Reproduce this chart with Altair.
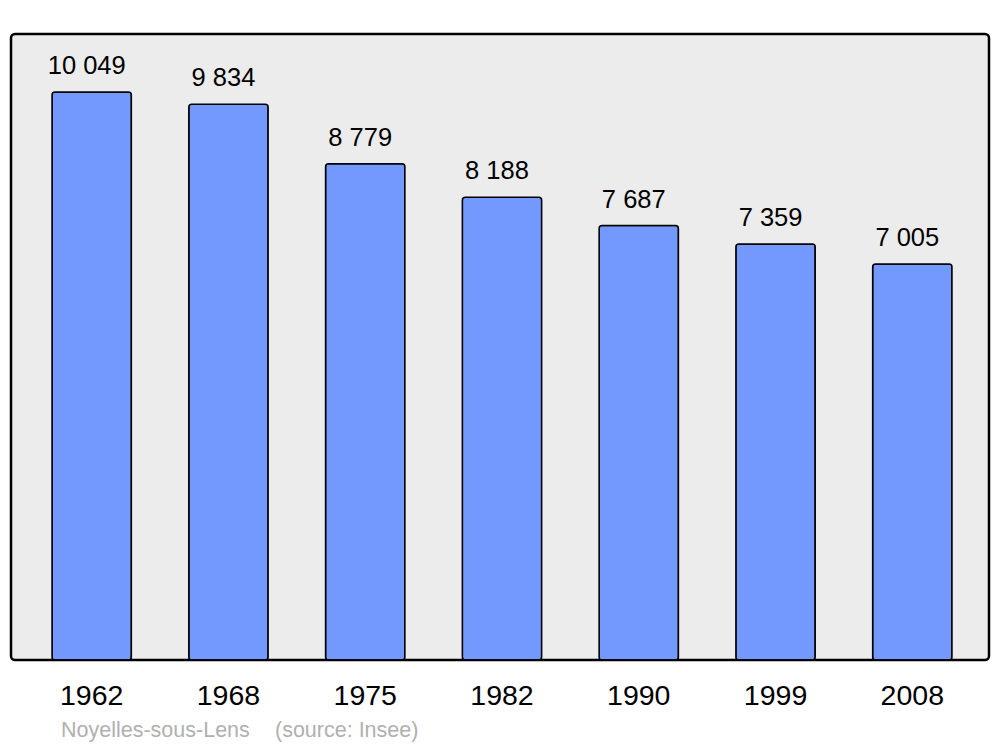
import altair as alt
import pandas as pd

years = ["1962", "1968", "1975", "1982", "1990", "1999", "2008"]
population = [10049, 9834, 8779, 8188, 7687, 7359, 7005]
labels = [f"{v:,}".replace(",", " ") for v in population]
place = "Noyelles-sous-Lens"
source = "(source: Insee)"

df = pd.DataFrame({"year": years, "pop": population, "label": labels})

x = alt.X("year:O", sort=years, title=None,
          scale=alt.Scale(range=[0, 982], paddingInner=0.42, paddingOuter=0.3),
          axis=alt.Axis(labelAngle=0, labelFontSize=28.5, labelColor="black",
                        labelFont="Liberation Sans", labelPadding=21,
                        domain=False, ticks=False, grid=False))
y = alt.Y("pop:Q", title=None, scale=alt.Scale(domain=[0, 11075], nice=False, zero=True),
          axis=None)

bars = alt.Chart(df).mark_bar(color="#7399ff", stroke="black", strokeWidth=1.5,
                              cornerRadius=3).encode(x=x, y=y)
text = alt.Chart(df).mark_text(fontSize=25.5, font="Liberation Sans", color="black",
                               baseline="alphabetic", dy=-18, dx=-5).encode(
    x=x, y=y, text="label:N")

src = pd.DataFrame({"t": [place, source], "px": [50, 264]})
note = alt.Chart(src).mark_text(fontSize=21.5, font="Liberation Sans", color="#b0b0b0",
                                align="left", baseline="alphabetic").encode(
    x=alt.X("px:Q", scale=None), y=alt.value(703), text="t:N")

chart = alt.layer(bars, text, note).properties(
    width=978, height=626,
    background="white",
    autosize=alt.AutoSizeParams(type="none"),
    padding={"left": 3, "top": 26, "right": 3, "bottom": 90},
).configure_view(fill="#ececec", stroke="black", strokeWidth=2.5, cornerRadius=4)

chart.save("out.html", embed_options={"renderer": "svg", "actions": False})
